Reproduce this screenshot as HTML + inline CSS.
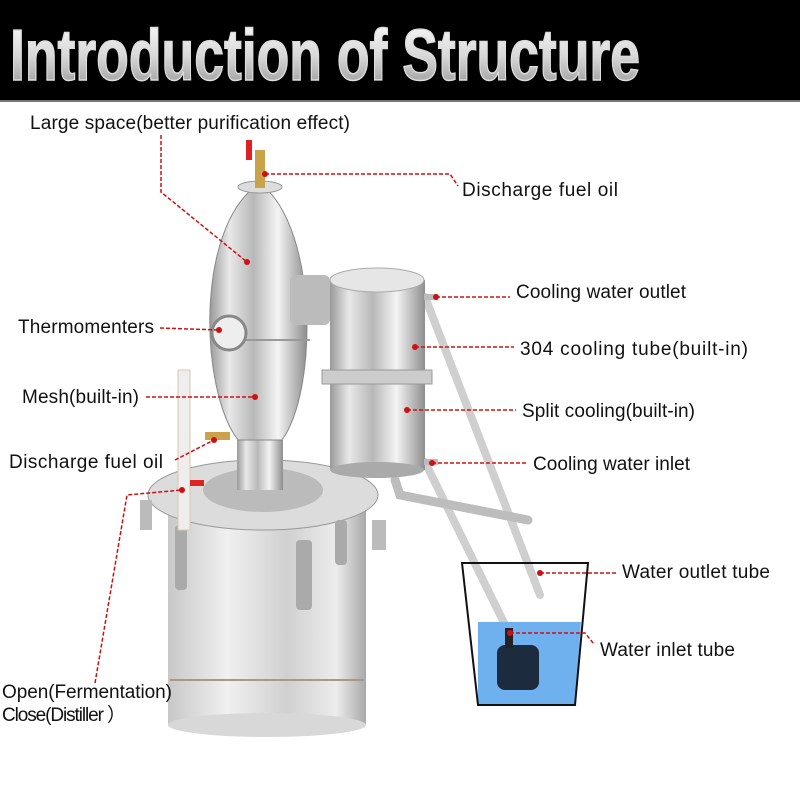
<!DOCTYPE html>
<html><head><meta charset="utf-8"><style>
html,body{margin:0;padding:0;background:#fff}
svg{display:block}
text{font-family:"Liberation Sans",sans-serif}
</style></head><body>
<svg width="800" height="800" viewBox="0 0 800 800" xmlns="http://www.w3.org/2000/svg">
<defs>
<linearGradient id="tg" x1="0" y1="0" x2="0" y2="1"><stop offset="0" stop-color="#fff"/><stop offset="0.5" stop-color="#d8d8d8"/><stop offset="1" stop-color="#8a8a8a"/></linearGradient>
<linearGradient id="steel" x1="0" y1="0" x2="1" y2="0"><stop offset="0" stop-color="#9a9a9a"/><stop offset="0.2" stop-color="#e8e8e8"/><stop offset="0.45" stop-color="#b8b8b8"/><stop offset="0.7" stop-color="#f4f4f4"/><stop offset="1" stop-color="#8e8e8e"/></linearGradient>
<linearGradient id="steel2" x1="0" y1="0" x2="1" y2="0"><stop offset="0" stop-color="#c8c8c8"/><stop offset="0.3" stop-color="#f0f0f0"/><stop offset="0.6" stop-color="#d0d0d0"/><stop offset="0.85" stop-color="#ececec"/><stop offset="1" stop-color="#a8a8a8"/></linearGradient>
</defs>
<rect x="0" y="0" width="800" height="100" fill="#000"/>
<rect x="0" y="100" width="800" height="2" fill="#777"/>
<text x="10" y="80" font-size="72" font-weight="bold" fill="url(#tg)" stroke="#ddd" stroke-width="1.5" textLength="630" lengthAdjust="spacingAndGlyphs">Introduction of Structure</text>

<line x1="425" y1="297" x2="540" y2="595" stroke="#cfcfcf" stroke-width="8" stroke-linecap="round"/>
<line x1="425" y1="462" x2="510" y2="635" stroke="#cfcfcf" stroke-width="8" stroke-linecap="round"/>
<path d="M395 480 L400 495 L528 520" stroke="#bdbdbd" stroke-width="9" fill="none" stroke-linecap="round"/>

<path d="M478 622 L581 622 L575 705 L478 705 Z" fill="#6fb1ee"/>
<path d="M462 563 L588 563 L575 705 L478 705 Z" fill="none" stroke="#111" stroke-width="2"/>
<rect x="497" y="645" width="42" height="45" rx="8" fill="#1c2b3d"/>
<rect x="505" y="628" width="8" height="20" fill="#222"/>

<rect x="168" y="500" width="198" height="225" fill="url(#steel2)"/>
<ellipse cx="267" cy="725" rx="99" ry="12" fill="#d8d8d8"/>
<line x1="170" y1="680" x2="364" y2="680" stroke="#a8988a" stroke-width="2"/>
<ellipse cx="263" cy="495" rx="115" ry="35" fill="#dcdcdc" stroke="#999"/>
<ellipse cx="263" cy="490" rx="60" ry="22" fill="#bbb"/>
<rect x="140" y="500" width="12" height="30" fill="#bbb"/>
<rect x="372" y="520" width="14" height="30" fill="#bbb"/>
<rect x="175" y="525" width="12" height="65" rx="4" fill="#aaa"/>
<rect x="296" y="540" width="16" height="70" rx="4" fill="#aaa"/>
<rect x="335" y="520" width="12" height="45" rx="4" fill="#aaa"/>
<rect x="178" y="370" width="12" height="160" fill="#eee" stroke="#d8c8a8"/>
<rect x="190" y="480" width="14" height="6" fill="#d22"/>

<rect x="237" y="440" width="46" height="50" fill="url(#steel)"/>
<path d="M257 185 C195 230 200 390 238 440 L282 440 C318 390 318 230 262 185 Z" fill="url(#steel)" stroke="#888"/>
<ellipse cx="260" cy="187" rx="22" ry="6" fill="#ddd" stroke="#999"/>
<rect x="255" y="150" width="10" height="38" fill="#c9a24a"/>
<rect x="246" y="140" width="6" height="20" fill="#d22"/>
<line x1="210" y1="340" x2="310" y2="340" stroke="#999" stroke-width="2"/>
<circle cx="229" cy="333" r="17" fill="#eee" stroke="#888" stroke-width="3"/>
<rect x="290" y="275" width="40" height="50" fill="#bbb" rx="6"/>
<rect x="205" y="432" width="25" height="8" fill="#c9a24a"/>

<rect x="330" y="280" width="95" height="190" fill="url(#steel)"/>
<ellipse cx="377" cy="280" rx="47" ry="12" fill="#e6e6e6" stroke="#aaa"/>
<ellipse cx="377" cy="470" rx="47" ry="8" fill="#aaa"/>
<rect x="322" y="370" width="110" height="14" fill="#ccc" stroke="#999"/>
<rect x="424" y="294" width="14" height="6" fill="#bbb"/>
<rect x="424" y="459" width="14" height="6" fill="#bbb"/>

<g font-size="19" fill="#111" lengthAdjust="spacingAndGlyphs">
<text x="30" y="129" textLength="320">Large space(better purification effect)</text>
<text x="462" y="196" textLength="156">Discharge fuel oil</text>
<text x="516" y="298" textLength="170">Cooling water outlet</text>
<text x="520" y="355" textLength="228">304 cooling tube(built-in)</text>
<text x="522" y="417" textLength="173">Split cooling(built-in)</text>
<text x="533" y="470" textLength="157">Cooling water inlet</text>
<text x="622" y="578" textLength="148">Water outlet tube</text>
<text x="600" y="656" textLength="135">Water inlet tube</text>
<text x="18" y="333" textLength="136">Thermomenters</text>
<text x="22" y="403" textLength="117">Mesh(built-in)</text>
<text x="9" y="468" textLength="154">Discharge fuel oil</text>
<text x="2" y="698" textLength="170">Open(Fermentation)</text>
<text x="2" y="721" textLength="124">Close(Distiller ）</text>
</g>
<g stroke="#d01010" stroke-width="1.5" stroke-dasharray="4,2" fill="none">
<path d="M161 135 L161 192 L247 262"/>
<path d="M265 174 L450 174 L458 186"/>
<path d="M436 297 L510 297"/>
<path d="M415 347 L514 347"/>
<path d="M407 410 L516 410"/>
<path d="M432 463 L527 463"/>
<path d="M540 573 L616 573"/>
<path d="M510 633 L585 633 L594 644"/>
<path d="M160 328 L219 330"/>
<path d="M146 397 L255 397"/>
<path d="M175 460 L214 440"/>
<path d="M95 683 L127 495 L182 490"/>
</g>
<g fill="#d01010">
<circle cx="265" cy="174" r="3"/><circle cx="247" cy="262" r="3"/>
<circle cx="436" cy="297" r="3"/><circle cx="415" cy="347" r="3"/>
<circle cx="407" cy="410" r="3"/><circle cx="432" cy="463" r="3"/>
<circle cx="540" cy="573" r="3"/><circle cx="510" cy="633" r="3"/>
<circle cx="219" cy="330" r="3"/><circle cx="255" cy="397" r="3"/>
<circle cx="214" cy="440" r="3"/><circle cx="182" cy="490" r="3"/>
</g>
</svg>
</body></html>
